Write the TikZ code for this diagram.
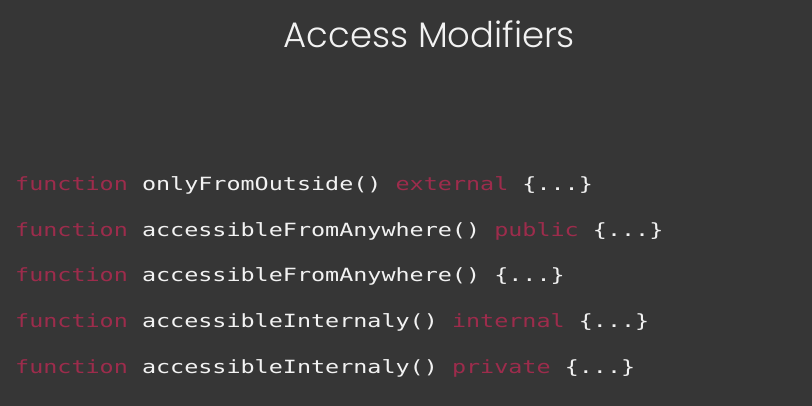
\documentclass[tikz,border=0pt]{standalone}
\usepackage{fontspec}
\newfontfamily\codefont{DejaVu Sans Mono}[FakeStretch=1.286]
\newfontfamily\titlefont{Poppins Light}
\definecolor{bg}{HTML}{363636}
\definecolor{kw}{HTML}{9D2C4C}
\definecolor{fg}{HTML}{F2F2F2}
\newcommand{\kw}[1]{\textcolor{kw}{#1}}
\tikzset{
  codeline/.style={anchor=base west, inner sep=0pt, text=fg, font=\codefont\fontsize{18.2}{20}\selectfont},
  titletext/.style={anchor=base west, inner sep=0pt, text=fg, font=\titlefont\fontsize{35.4}{40}\selectfont}
}
\begin{document}
\begin{tikzpicture}[x=1pt,y=1pt]
\fill[bg] (0,0) rectangle (812,406);
\useasboundingbox (0,0) rectangle (812,406);
\node[titletext] (title) at (283.5,358.7) {Access Modifiers};
\node[codeline] (l1) at (15,215.5) {\kw{function} onlyFromOutside() \kw{external} \{...\}};
\node[codeline] (l2) at (15,169.8) {\kw{function} accessibleFromAnywhere() \kw{public} \{...\}};
\node[codeline] (l3) at (15,124) {\kw{function} accessibleFromAnywhere() \{...\}};
\node[codeline] (l4) at (15,78.3) {\kw{function} accessibleInternaly() \kw{internal} \{...\}};
\node[codeline] (l5) at (15,32.5) {\kw{function} accessibleInternaly() \kw{private} \{...\}};
\end{tikzpicture}
\end{document}
